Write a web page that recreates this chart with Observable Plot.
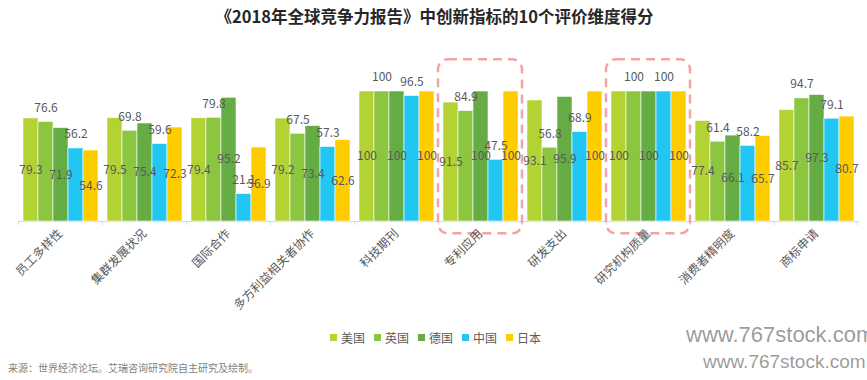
<!DOCTYPE html>
<html><head><meta charset="utf-8">
<script src="https://cdn.jsdelivr.net/npm/d3@7"></script>
<script src="https://cdn.jsdelivr.net/npm/@observablehq/plot@0.6"></script>
<style>
body{margin:0;background:#fff;font-family:"Noto Sans CJK SC","Noto Sans",sans-serif;}
#root{position:relative;width:867px;height:380px;overflow:hidden;background:#fff;}
#title{height:35px;line-height:33px;text-align:center;padding-left:2px;font-size:16.5px;font-weight:bold;color:#262626;}
#legend{position:absolute;left:330px;top:321px;}
.lg-swatch{margin-right:9px !important;}
.lg-swatch > svg{margin-right:4px !important;}
#footer{position:absolute;left:8px;top:360px;font-size:10px;color:#7f7f7f;}
.wm{position:absolute;font-family:"Liberation Sans",Arial,sans-serif;color:rgba(70,70,70,0.55);text-shadow:0 0 2px #fff;white-space:nowrap;}
</style>
</head><body>
<div id="root">
  <div id="title">《2018年全球竞争力报告》中创新指标的10个评价维度得分</div>
  <div id="chart"></div>
  <div id="legend"></div>
  <div id="footer">来源：世界经济论坛。艾瑞咨询研究院自主研究及绘制。</div>
  <div class="wm" style="left:686px;top:322px;font-size:22px;">www.767stock.com</div>
  <div class="wm" style="left:703px;top:351px;font-size:19px;">www.767stock.com</div>
</div>
<script>
const groups = ["员工多样性","集群发展状况","国际合作","多方利益相关者协作","科技期刊","专利应用","研发支出","研究机构质量","消费者精明度","商标申请"];
const countries = ["美国","英国","德国","中国","日本"];
const colors = ["#b3d234","#8cc540","#66ac45","#21c7f2","#ffcc00"];
const us = [79.3,79.5,79.4,79.2,100,91.5,93.1,100,77.4,85.7];
const uk = [76.6,69.8,79.8,67.5,100,84.9,56.8,100,61.4,94.7];
const de = [71.9,75.4,95.2,73.4,100,100,95.9,100,66.1,97.3];
const cn = [56.2,59.6,21.1,57.3,96.5,47.5,68.9,100,58.2,79.1];
const jp = [54.6,72.3,56.9,62.6,100,100,100,100,65.7,80.7];
const highlighted = ["专利应用","研究机构质量"];

const series = [us, uk, de, cn, jp];
const rows = [];
groups.forEach((g, i) => countries.forEach((c, j) => rows.push({group: g, country: c, value: series[j][i], idx: j})));
const inside = rows.filter(d => d.idx % 2 === 0);
const above = rows.filter(d => d.idx % 2 === 1);

const font = '"Noto Sans CJK SC","Noto Sans",sans-serif';
const chart = Plot.plot({
  width: 867, height: 290,
  marginLeft: 18, marginRight: 9, marginTop: 56, marginBottom: 104,
  style: {fontFamily: font, fontSize: "12px", color: "#595959", background: "transparent", overflow: "visible"},
  fx: {domain: groups, padding: 0, label: null},
  x: {domain: countries, paddingInner: 0, paddingOuter: 0.3, axis: null},
  y: {domain: [0, 100], axis: null},
  color: {domain: countries, range: colors},
  marks: [
    Plot.ruleY([0], {stroke: "#d9d9d9"}),
    Plot.barY(groups, {fx: d => d, y1: 0, y2: -3, insetRight: 83, fill: "#d9d9d9"}),
    Plot.barY([groups[groups.length - 1]], {fx: d => d, y1: 0, y2: -3, insetLeft: 83, fill: "#d9d9d9"}),
    Plot.barY(rows, {fx: "group", x: "country", y: "value", fill: "country", stroke: "#fff", strokeWidth: 0.6}),
    Plot.text(inside, {fx: "group", x: "country", y: d => d.value / 2, text: d => String(d.value), fill: "#595959", fontSize: 12}),
    Plot.text(above, {fx: "group", x: "country", y: "value", dy: -14, text: d => String(d.value), fill: "#595959", fontSize: 12}),
    Plot.barY(highlighted, {fx: d => d, y1: -9.5, y2: 124.5, fill: "none", stroke: "#f4a3a3", strokeWidth: 2.5, strokeDasharray: "9,6", rx: 10}),
    Plot.axisFx({anchor: "bottom", tickRotate: -45, tickSize: 0, tickPadding: 10, textAnchor: "end", fontSize: 12, fill: "#595959", label: null})
  ]
});
document.getElementById("chart").appendChild(chart);

const legend = Plot.legend({
  color: {type: "ordinal", domain: countries, range: colors},
  swatchSize: 7, className: "lg",
  style: {fontFamily: font, fontSize: "12px", color: "#595959"}
});
document.getElementById("legend").appendChild(legend);
</script>
</body></html>
